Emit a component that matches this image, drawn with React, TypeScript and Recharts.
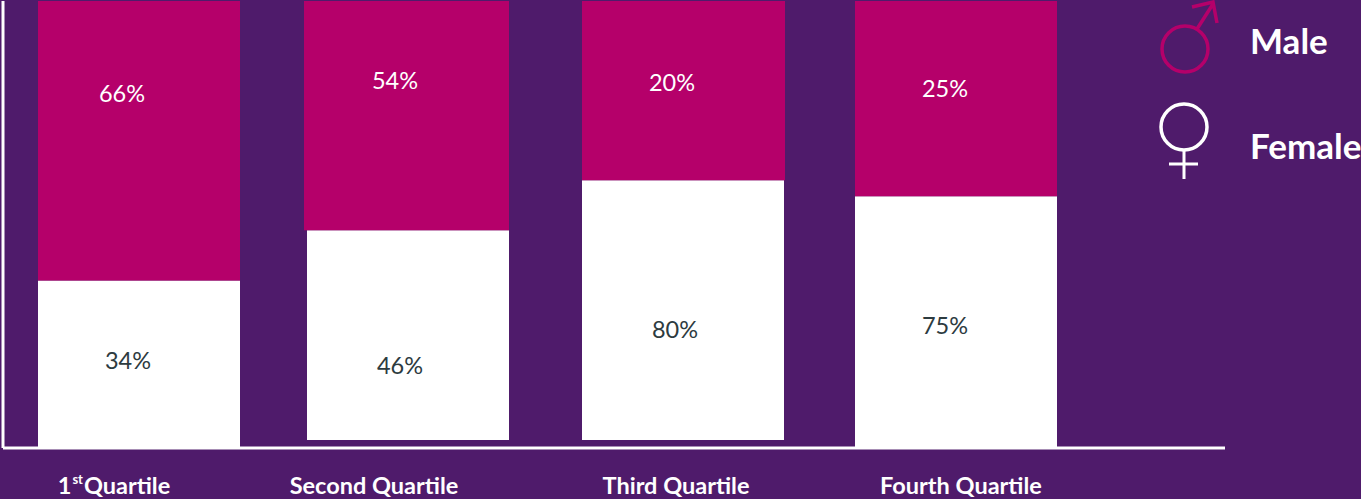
import { BarChart, Bar, XAxis, YAxis, LabelList, Rectangle } from "recharts";

const quartiles = ["1st Quartile", "Second Quartile", "Third Quartile", "Fourth Quartile"];

// printed percentages
const malePct = ["66%", "54%", "20%", "25%"];
const femalePct = ["34%", "46%", "80%", "75%"];

// bar heights as drawn in the picture (they don't follow the printed numbers)
const baseGap = [0, 1.8, 1.8, 0];
const femaleHeight = [37.5, 46.9, 58.1, 56.3];
const maleHeight = [62.5, 51.3, 40.1, 43.7];

const PURPLE = "#4f1b6b";
const MAGENTA = "#b5006a";
const DARK = "#2d3b3f";
const FONT = "Lato, sans-serif";

// hand placement, the slide wasn't aligned
const maleLabelPos = [[-17, 92], [-16, 79], [-11, 81], [-10, 87]];
const femaleLabelPos = [[-11, 80], [-11, 135], [-8, 149], [-10, 129]];
const tickShift = [-25, -37, -7, 6];
const barShift = [0, -3, 0, 1];
const maleExtraLeft = [0, 3, 0, 0];
const maleExtraRight = [0, 0, 1, 0];

const chartData = quartiles.map((name, i) => ({
  name,
  base: baseGap[i],
  female: femaleHeight[i],
  male: maleHeight[i],
  maleLabel: malePct[i],
  femaleLabel: femalePct[i],
}));

const pctLabel = (pos: number[][], color: string) => (props: any) => {
  const { x, y, width, index, value } = props;
  return (
    <text
      x={x + width / 2 + pos[index][0]}
      y={y + pos[index][1]}
      fill={color}
      fontFamily={FONT}
      fontSize={23.5}
      textAnchor="middle"
      dominantBaseline="central"
    >
      {value}
    </text>
  );
};

const QuartileTick = (props: any) => {
  const { x, payload, index } = props;
  const common = { fontFamily: FONT, fontSize: 23.5, fontWeight: 700, fill: "#ffffff" };
  const cx = x + tickShift[index];
  if (index === 0) {
    return (
      <text x={cx} y={485} textAnchor="middle" dominantBaseline="central" {...common}>
        1<tspan fontSize={13} dy={-6} dx={1}>st</tspan>
        <tspan dy={6} dx={1}>Quartile</tspan>
      </text>
    );
  }
  return (
    <text x={cx} y={485} textAnchor="middle" dominantBaseline="central" {...common}>
      {payload.value}
    </text>
  );
};

const FemaleBar = (p: any) => <Rectangle {...p} x={p.x + barShift[p.index]} />;
const MaleBar = (p: any) => (
  <Rectangle
    {...p}
    x={p.x + barShift[p.index] - maleExtraLeft[p.index]}
    width={p.width + maleExtraLeft[p.index] + maleExtraRight[p.index]}
  />
);

const GenderKey = () => (
  <svg width={1361} height={499} style={{ position: "absolute", left: 0, top: 0, pointerEvents: "none" }}>
    <g fill="none" stroke={MAGENTA} strokeWidth={3.5}>
      <circle cx={1185} cy={49} r={23} />
      <path d="M1197 29 L1213 4 M1192 7 L1213 2 L1217 23" />
    </g>
    <g fill="none" stroke="#ffffff">
      <circle cx={1184} cy={127} r={23} strokeWidth={3.5} />
      <path d="M1184 150 L1184 179 M1169 164 L1198 164" strokeWidth={3} />
    </g>
    <g fontFamily={FONT} fontWeight={700} fill="#ffffff" fontSize={35}>
      <text x={1250} y={40} dominantBaseline="central">Male</text>
      <text x={1250} y={145} dominantBaseline="central">Female</text>
    </g>
  </svg>
);

export default function App() {
  return (
    <div style={{ position: "fixed", left: 0, top: 0, width: 1361, height: 499, background: PURPLE, overflow: "hidden" }}>
      <BarChart
        width={1361}
        height={499}
        data={chartData}
        barSize={202}
        margin={{ top: 1, right: 136, bottom: 0, left: 0 }}
      >
        <XAxis
          dataKey="name"
          height={51}
          interval={0}
          padding={{ left: 0, right: 134 }}
          axisLine={{ stroke: "#ffffff", strokeWidth: 3 }}
          tickLine={false}
          tick={<QuartileTick />}
        />
        <YAxis
          width={3}
          domain={[0, 100]}
          tick={false}
          tickLine={false}
          axisLine={{ stroke: "#ffffff", strokeWidth: 3 }}
        />
        <Bar dataKey="base" stackId="q" fill="none" isAnimationActive={false} />
        <Bar dataKey="female" stackId="q" fill="#ffffff" isAnimationActive={false} shape={FemaleBar}>
          <LabelList dataKey="femaleLabel" content={pctLabel(femaleLabelPos, DARK)} />
        </Bar>
        <Bar dataKey="male" stackId="q" fill={MAGENTA} isAnimationActive={false} shape={MaleBar}>
          <LabelList dataKey="maleLabel" content={pctLabel(maleLabelPos, "#ffffff")} />
        </Bar>
      </BarChart>
      <GenderKey />
    </div>
  );
}
